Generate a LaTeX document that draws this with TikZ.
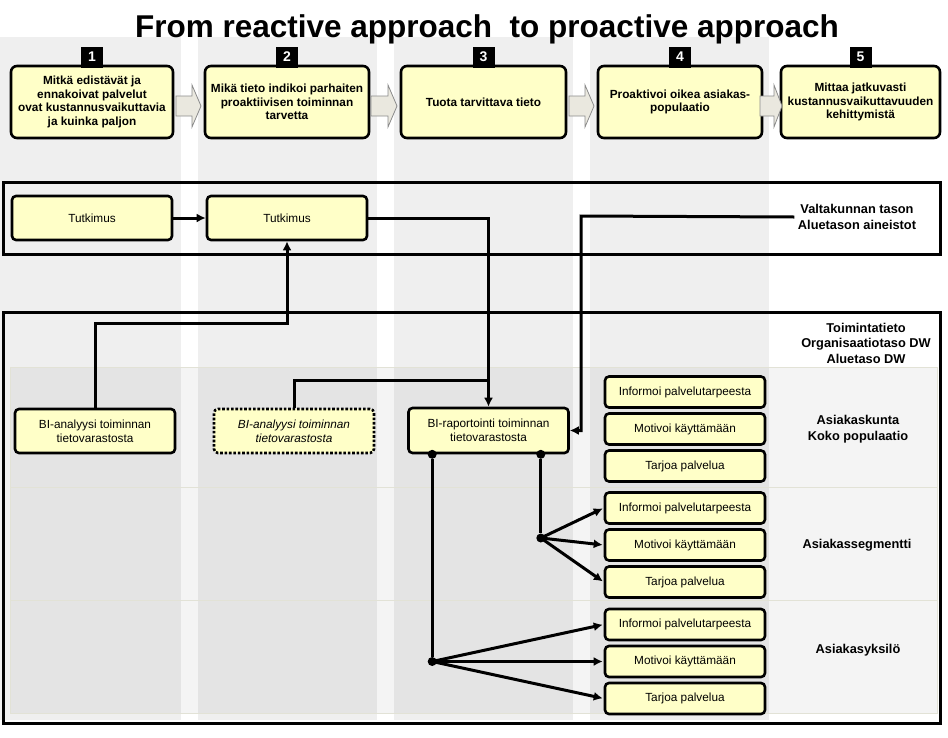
\documentclass[tikz,border=0pt]{standalone}
\usepackage{fontspec}
\setmainfont{Liberation Sans}
\usetikzlibrary{arrows.meta,calc}
\definecolor{boxyellow}{HTML}{FFFFC8}
\definecolor{bandgray}{HTML}{EFEFEF}
\definecolor{arrowbeige}{HTML}{EAE8DF}
\definecolor{rowline}{HTML}{E2E2D6}

\begin{document}
\begin{tikzpicture}[
    x=1pt,y=-1pt,
    >={Latex[length=9pt,width=9pt]},
    band/.style={fill=bandgray,draw=none},
    rowband/.style={fill=black,fill opacity=0.045,draw=rowline,line width=0.8pt},
    frame/.style={draw=black,line width=3pt},
    stepbox/.style={draw=black,line width=2.6pt,rounded corners=6pt,fill=boxyellow,
                    minimum width=162pt,minimum height=72pt,align=center,inner sep=1pt,
                    font=\bfseries\fontsize{11.8}{13.4}\selectfont},
    numbox/.style={fill=black,text=white,minimum width=22pt,minimum height=21pt,inner sep=0pt,
                   font=\bfseries\fontsize{14}{14}\selectfont},
    bigarrow/.style={draw=black!45,fill=arrowbeige,line width=0.8pt},
    infobox/.style={draw=black,line width=2.6pt,rounded corners=4pt,fill=boxyellow,
                    minimum width=160pt,minimum height=44pt,align=center,inner sep=1pt,
                    font=\fontsize{11.8}{14}\selectfont},
    actbox/.style={draw=black,line width=2.6pt,rounded corners=4pt,fill=boxyellow,
                   minimum width=160pt,minimum height=31pt,inner sep=1pt,
                   font=\fontsize{11.8}{14}\selectfont},
    lbl/.style={align=center,font=\bfseries\fontsize{12.8}{15.5}\selectfont},
    conn/.style={draw=black,line width=3pt},
    dot/.style={circle,fill=black,minimum size=9pt,inner sep=0pt},
]
\useasboundingbox (0,0) rectangle (948,737);

% ---- background column bands and row bands ----
\foreach \xa/\xb in {0/181,198/377,394/573,590/769}
  \fill[band] (\xa,37) rectangle (\xb,720);
\foreach \ya/\yb in {367/487,487/600,600/713}
  \draw[rowband] (10,\ya) rectangle (937,\yb);

% ---- title ----
\node[font=\bfseries\fontsize{31.5}{34}\selectfont] (title) at (487,29)
  {From reactive approach\ \ to proactive approach};

% ---- five steps ----
\node[stepbox] (s1) at (92,102)
  {Mitkä edistävät ja\\ennakoivat palvelut\\ovat kustannusvaikuttavia\\ja kuinka paljon};
\node[stepbox,minimum width=164pt] (s2) at (287,102)
  {Mikä tieto indikoi parhaiten\\proaktiivisen toiminnan\\tarvetta};
\node[stepbox,minimum width=165pt] (s3) at (483.5,102) {Tuota tarvittava tieto};
\node[stepbox,minimum width=164pt] (s4) at (680,102) {Proaktivoi oikea asiakas-\\populaatio};
\node[stepbox,minimum width=159pt] (s5) at (860.5,102)
  {Mittaa jatkuvasti\\kustannusvaikuttavuuden\\kehittymistä};
\foreach \s/\n in {s1/1,s2/2,s3/3,s4/4,s5/5}
  \node[numbox] (n\n) at (\s.north |- 0,57) {\n};

% block arrows between the steps
\foreach \xa/\xh/\xb in {176/192/201,371/388/397,569/585/594,760/774/782}
  \draw[bigarrow] (\xa,96) -- (\xh,96) -- (\xh,85) -- (\xb,106) -- (\xh,127)
                  -- (\xh,116) -- (\xa,116) -- cycle;

% ---- research level ----
\draw[frame] (3,182) rectangle (940,254);
\node[infobox] (tut1) at (92,218) {Tutkimus};
\node[infobox] (tut2) at (287,218) {Tutkimus};
\node[lbl] (valt) at (857,217) {Valtakunnan tason\\Aluetason aineistot};

% ---- operational data level ----
\draw[frame] (3,312) rectangle (940,723);
\node[lbl] (toim) at (866,343) {Toimintatieto\\Organisaatiotaso DW\\Aluetaso DW};

\node[infobox] (ana1) at (95,431) {BI-analyysi toiminnan\\tietovarastosta};
\node[infobox,dash pattern=on 2.6pt off 1.8pt,font=\itshape\fontsize{11.8}{14}\selectfont]
  (ana2) at (294,431) {BI-analyysi toiminnan\\tietovarastosta};
\node[infobox,minimum height=45pt] (rap) at (488.5,430.5)
  {BI-raportointi toiminnan\\tietovarastosta};

% action boxes per row
\foreach \r/\y in {1/392,2/508,3/624.5} {
  \node[actbox] (inf\r) at (685,\y) {Informoi palvelutarpeesta};
  \node[actbox] (mot\r) at (685,\y+37) {Motivoi käyttämään};
  \node[actbox] (tar\r) at (685,\y+74) {Tarjoa palvelua};
}
\node[lbl] (row1) at (858,429) {Asiakaskunta\\Koko populaatio};
\node[lbl] (row2) at (857,545) {Asiakassegmentti};
\node[lbl] (row3) at (858,650) {Asiakasyksilö};

% ---- connectors ----
\draw[conn,->] (tut1) -- (tut2);
\draw[conn,->] (tut2.east) -| (rap.north);
\coordinate (vbend) at (581,216);
\draw[conn,->] (valt.west) -- (vbend) |- (rap.east);
\coordinate (abend) at (95,323);
\draw[conn,->] (ana1.north) -- (abend) -| (tut2.south);
\draw[conn] (ana2.north) |- ($(rap.north)+(0,-26)$);

\node[dot] (d1) at ($(rap.south west)+(25,0)$) {};
\node[dot] (d2) at ($(rap.south east)+(-29,0)$) {};
\node[dot] (d3) at (d2 |- 0,538) {};
\node[dot] (d4) at (d1 |- mot3) {};
\draw[conn] (d2) -- (d3);
\draw[conn] (d1) -- (d4);
\foreach \t in {inf2,mot2,tar2}
  \draw[conn,->,shorten >=1pt] (d3.center) -- (\t.west);
\foreach \t in {inf3,mot3,tar3}
  \draw[conn,->,shorten >=1pt] (d4.center) -- (\t.west);

\end{tikzpicture}
\end{document}
